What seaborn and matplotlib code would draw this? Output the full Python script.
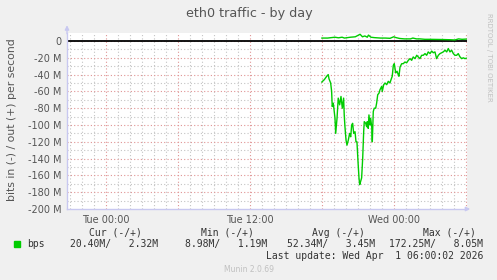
import matplotlib
matplotlib.use("Agg")
import matplotlib.pyplot as plt
import seaborn as sns
import pandas as pd

# ---- data (hours relative to Tue 00:00, values in Mbit/s) ----
in_hours = [18.0, 18.22, 18.42, 18.55, 18.61, 18.75, 18.83, 18.88, 18.97, 19.11, 19.17, 19.28,
            19.38, 19.5, 19.61, 19.72, 19.83, 19.88, 19.94, 20.03, 20.11, 20.22, 20.33, 20.42,
            20.5, 20.58, 20.67, 20.78, 20.86, 20.94, 21.03, 21.11, 21.17, 21.25, 21.33, 21.42,
            21.5, 21.55, 21.67, 21.75, 21.8, 21.88, 21.94, 22.03, 22.08, 22.17, 22.22, 22.3,
            22.38, 22.5, 22.58, 22.67, 22.78, 22.86, 23.0, 23.05, 23.17, 23.28, 23.42, 23.55,
            23.69, 23.78, 23.88, 23.97, 24.05, 24.17, 24.28, 24.38, 24.44, 24.53, 24.67, 24.8,
            24.94, 25.08, 25.22, 25.36, 25.5, 25.63, 25.78, 25.92, 26.05, 26.19, 26.33, 26.47,
            26.61, 26.75, 26.88, 27.03, 27.17, 27.3, 27.44, 27.58, 27.72, 27.86, 28.0, 28.13,
            28.28, 28.42, 28.55, 28.69, 28.83, 28.97, 29.11, 29.25, 29.38, 29.53, 29.67, 29.8,
            29.94, 30.07]
in_mbps = [-49, -46, -42, -40, -45, -50, -60, -78, -74, -92, -110, -92,
           -68, -76, -66, -80, -68, -88, -102, -118, -124, -118, -110, -114,
           -100, -98, -110, -108, -120, -120, -144, -163, -171, -167, -163, -139,
           -108, -96, -98, -102, -96, -104, -88, -100, -92, -102, -120, -84,
           -80, -80, -74, -64, -62, -58, -54, -60, -52, -50, -52, -48,
           -50, -46, -42, -29, -27, -38, -36, -40, -42, -31, -27, -27,
           -25, -26, -23, -21, -23, -19, -21, -17, -19, -21, -17, -17,
           -15, -17, -13, -15, -12, -14, -13, -21, -17, -15, -14, -13,
           -11, -13, -9, -13, -11, -15, -17, -17, -15, -19, -21, -20,
           -21, -20.4]
out_hours = [18.0, 18.5, 19.1, 19.4, 19.7, 19.9, 20.4, 20.8, 21.0, 21.2, 21.4, 21.6, 21.8,
             21.9, 22.1, 22.4, 22.9, 23.3, 23.7, 24.0, 24.2, 24.5, 24.9, 25.4, 25.6, 25.9,
             26.2, 26.6, 27.0, 27.9, 28.7, 29.1, 29.4, 29.7, 30.07]
out_mbps = [3.5, 3.5, 4.5, 3.8, 4.5, 3.5, 4.5, 5.0, 6.5, 8.0, 5.0, 6.0, 4.5,
            7.0, 4.5, 4.0, 3.5, 3.5, 3.2, 5.0, 4.0, 3.0, 2.5, 2.5, 3.5, 2.5,
            2.5, 2.0, 2.0, 1.8, 1.5, 1.2, 2.5, 2.0, 2.3]

x_tick_hours = [0, 12, 24]
x_tick_labels = ["Tue 00:00", "Tue 12:00", "Wed 00:00"]
y_ticks = [0, -20, -40, -60, -80, -100, -120, -140, -160, -180, -200]
y_tick_labels = ["0", "-20 M", "-40 M", "-60 M", "-80 M", "-100 M", "-120 M",
                 "-140 M", "-160 M", "-180 M", "-200 M"]
legend_headers = ["Cur (-/+)", "Min (-/+)", "Avg (-/+)", "Max (-/+)"]
legend_values = ["20.40M/   2.32M", "8.98M/   1.19M", "52.34M/   3.45M", "172.25M/   8.05M"]
title = "eth0 traffic - by day"
y_label = "bits in (-) / out (+) per second"
last_update = "Last update: Wed Apr  1 06:00:02 2026"

# ---- styling ----
sns.set_theme(style="white")
plt.rcParams['font.family'] = ['DejaVu Sans']

W, H = 497, 280
fig = plt.figure(figsize=(W / 100, H / 100), dpi=100, facecolor="#f0f0f0")
ax = fig.add_axes([67 / W, 71 / H, 400 / W, 176 / H])
ax.set_facecolor("white")

x_min, x_max = -3.22, 30.11
y_min, y_max = -200, 9.52
ax.set_xlim(x_min, x_max)
ax.set_ylim(y_min, y_max)

minor_c = "#c4c4c4"
major_c = "#e09494"
ls = (0, (1, 2))
for h in range(-3, 31):
    ax.axvline(h, color=major_c if h % 6 == 0 else minor_c, lw=0.8, ls=ls, zorder=1)
for v in range(-190, 10, 10):
    ax.axhline(v, color=major_c if v % 20 == 0 else minor_c, lw=0.8, ls=ls, zorder=1)

ax.axhline(0, color="black", lw=1.3, zorder=2)

df_in = pd.DataFrame({"h": in_hours, "v": in_mbps})
df_out = pd.DataFrame({"h": out_hours, "v": out_mbps})
sns.lineplot(data=df_in, x="h", y="v", ax=ax, color="#00cc00", lw=1.0, zorder=3)
sns.lineplot(data=df_out, x="h", y="v", ax=ax, color="#00cc00", lw=1.0, zorder=3)

ax.set_xlabel("")
ax.set_ylabel("")
ax.set_xticks(x_tick_hours)
ax.set_xticklabels(x_tick_labels)
ax.set_yticks(y_ticks)
ax.set_yticklabels(y_tick_labels)
ax.tick_params(axis="both", labelsize=7, colors="#555555", length=2, width=0.6, pad=2)
ax.tick_params(axis="both", color="#c8c8e8")

for s in ["top", "right"]:
    ax.spines[s].set_visible(False)
for s in ["left", "bottom"]:
    ax.spines[s].set_color("#c8c8f0")
    ax.spines[s].set_linewidth(1.0)

# axis arrows
ax.annotate("", xy=(0, 1.06), xytext=(0, 0.98), xycoords="axes fraction",
            arrowprops=dict(arrowstyle="-|>", color="#c8c8f0", lw=1.0, mutation_scale=6),
            annotation_clip=False)
ax.annotate("", xy=(1.015, 0), xytext=(0.99, 0), xycoords="axes fraction",
            arrowprops=dict(arrowstyle="-|>", color="#c8c8f0", lw=1.0, mutation_scale=6),
            annotation_clip=False)

# texts
fig.text(249 / W, 1 - 14 / H, title, ha="center", va="center", fontsize=9.2, color="#555555")
fig.text(12 / W, 1 - 120 / H, y_label, ha="center", va="center", rotation=90,
         fontsize=7.8, color="#555555")
fig.text(489 / W, 1 - 57 / H, "RRDTOOL / TOBI OETIKER", ha="center", va="center",
         rotation=270, fontsize=5, color="#c0c0c0")

mono = "DejaVu Sans Mono"
header_right = [142, 254, 365, 476]
value_right = [158, 267, 375, 483]
for txt, xr in zip(legend_headers, header_right):
    fig.text(xr / W, 1 - 232.7 / H, txt, ha="right", va="center", family=mono,
             fontsize=7, color="#333333")
for txt, xr in zip(legend_values, value_right):
    fig.text(xr / W, 1 - 244.3 / H, txt, ha="right", va="center", family=mono,
             fontsize=7, color="#333333")
fig.text(27 / W, 1 - 244.3 / H, "bps", ha="left", va="center", family=mono,
         fontsize=7, color="#333333")
fig.patches.append(plt.Rectangle((14 / W, 1 - 247 / H), 6 / W, 6 / H,
                                 transform=fig.transFigure, color="#00cc00"))
fig.text(483 / W, 1 - 256 / H, last_update, ha="right", va="center", family=mono,
         fontsize=7, color="#333333")
fig.text(249 / W, 1 - 269.3 / H, "Munin 2.0.69", ha="center", va="center",
         fontsize=5.5, color="#c0c0c0")

fig.savefig("out.png", dpi=100, facecolor=fig.get_facecolor())
